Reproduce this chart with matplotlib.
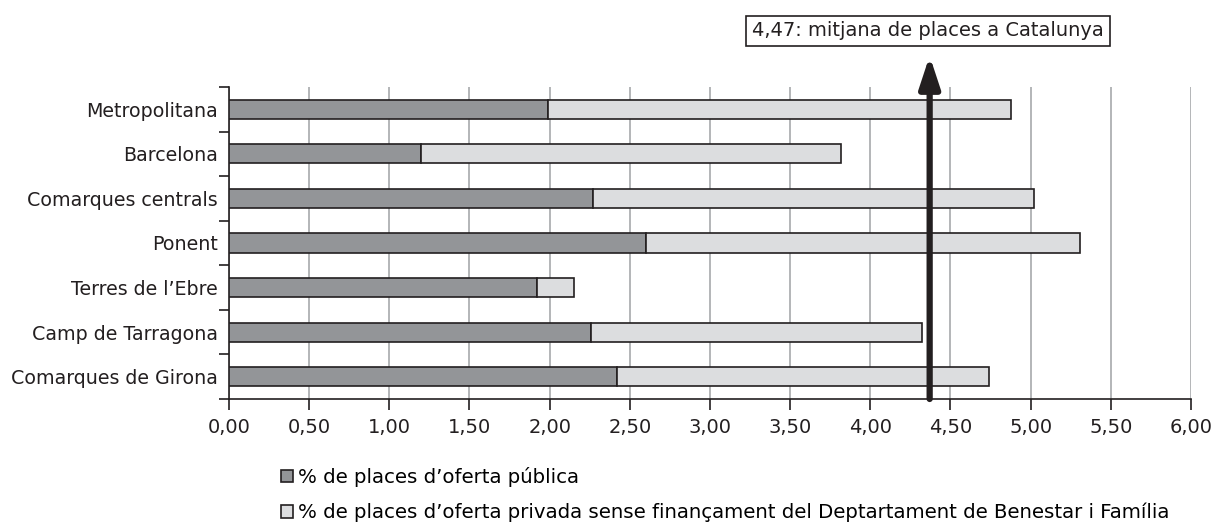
import matplotlib
matplotlib.use("Agg")
import matplotlib.pyplot as plt
from matplotlib.patches import Patch
import numpy as np

plt.rcParams['font.family'] = ['DejaVu Sans']

categories = ["Comarques de Girona", "Camp de Tarragona", "Terres de l\u2019Ebre",
              "Ponent", "Comarques centrals", "Barcelona", "Metropolitana"]
public = [2.42, 2.26, 1.92, 2.60, 2.27, 1.20, 1.99]
private = [2.32, 2.06, 0.23, 2.71, 2.75, 2.62, 2.89]
mean_pos = 4.37
mean_label = "4,47: mitjana de places a Catalunya"
xticks = [0, 0.5, 1, 1.5, 2, 2.5, 3, 3.5, 4, 4.5, 5, 5.5, 6]
xtick_labels = ["0,00", "0,50", "1,00", "1,50", "2,00", "2,50", "3,00",
                "3,50", "4,00", "4,50", "5,00", "5,50", "6,00"]
legend_labels = ["% de places d\u2019oferta p\u00fablica",
                 "% de places d\u2019oferta privada sense finan\u00e7ament del Deptartament de Benestar i Fam\u00edlia"]

dark = "#939598"
light = "#dcdddf"
edge = "#231f20"
fs = 14

fig = plt.figure(figsize=(12.17, 5.25), dpi=100)
ax = fig.add_axes([229/1217, 1 - 399/525, (1191-229)/1217, (399-87)/525])

y = np.arange(len(categories))
h = 0.43
ax.barh(y, public, height=h, color=dark, edgecolor=edge, linewidth=1.2, zorder=3)
ax.barh(y, private, left=public, height=h, color=light, edgecolor=edge, linewidth=1.2, zorder=3)

ax.set_xlim(0, 6)
ax.set_ylim(-0.5, 6.5)
ax.set_xticks(xticks)
ax.set_xticklabels(xtick_labels, fontsize=fs, color=edge)
ax.set_yticks(y)
ax.set_yticklabels(categories, fontsize=13.7, color=edge)
ax.set_yticks(np.arange(-0.5, 7, 1), minor=True)
ax.tick_params(axis='y', which='major', length=0, pad=8)
ax.tick_params(axis='y', which='minor', length=7, width=1.2, color=edge, direction='out')
ax.tick_params(axis='x', length=8, width=1.2, color=edge, pad=6)
ax.xaxis.grid(True, color="#a7a9ac", linewidth=1.2, zorder=0)
ax.set_axisbelow(True)
for s in ['top', 'right']:
    ax.spines[s].set_visible(False)
for s in ['left', 'bottom']:
    ax.spines[s].set_color(edge)
    ax.spines[s].set_linewidth(1.2)

ax.annotate("", xy=(mean_pos, 7.2), xytext=(mean_pos, -0.5),
            arrowprops=dict(arrowstyle="-|>,head_width=0.28,head_length=0.85",
                            lw=4.5, color=edge, mutation_scale=22,
                            shrinkA=0, shrinkB=0),
            annotation_clip=False, zorder=5)

fig.text(928/1217, 1 - 31/525, mean_label, ha='center', va='center', fontsize=fs,
         color=edge,
         bbox=dict(boxstyle="square,pad=0.3", facecolor="white", edgecolor=edge, linewidth=1.2))

handles = [Patch(facecolor=dark, edgecolor=edge, linewidth=1.2),
           Patch(facecolor=light, edgecolor=edge, linewidth=1.2)]
fig.legend(handles, legend_labels, loc='upper left', bbox_to_anchor=(281/1217, 1 - 467/525),
           frameon=False, fontsize=14.2, handlelength=0.62, handleheight=0.62,
           handletextpad=0.22, labelspacing=0.8, borderaxespad=0, borderpad=0)

fig.savefig("out.png", dpi=100, facecolor="white")
